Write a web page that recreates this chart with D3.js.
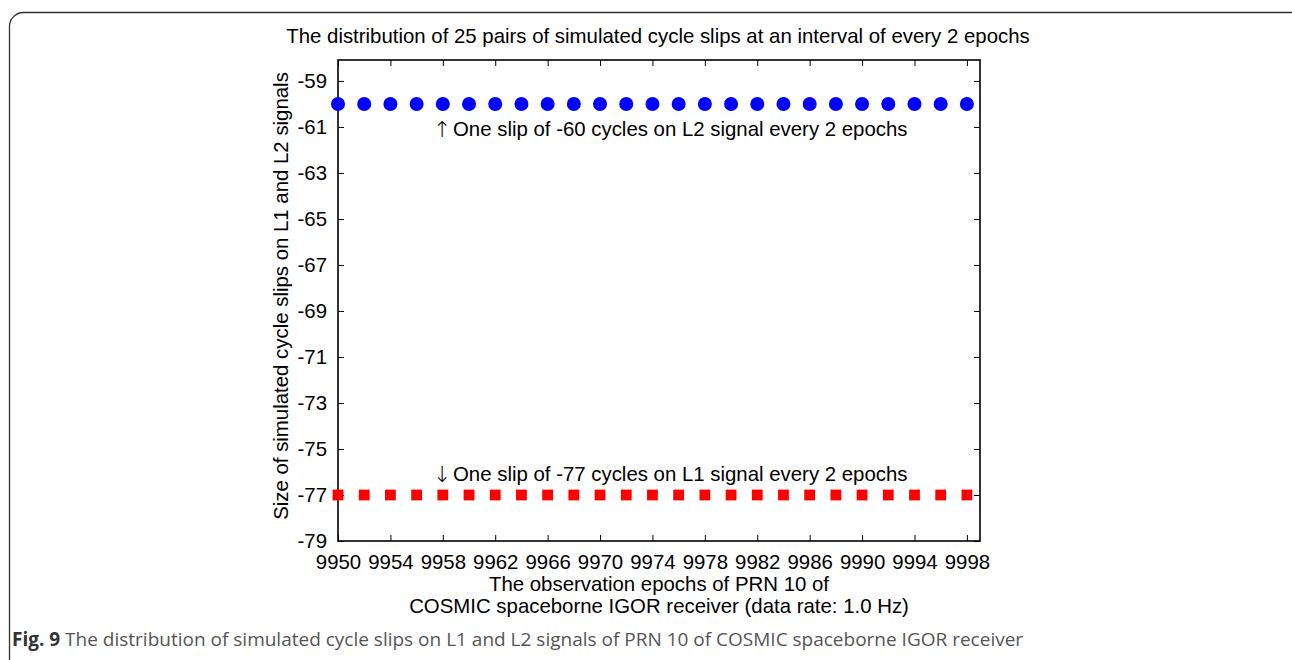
<!DOCTYPE html>
<html>
<head>
<meta charset="utf-8">
<script src="https://cdn.jsdelivr.net/npm/d3@7"></script>
<style>
  html, body { margin: 0; padding: 0; background: #fff; }
  svg { display: block; }
</style>
</head>
<body>
<svg id="chart" width="1292" height="660"></svg>
<script>
// Observation epochs (every 2 epochs) of PRN 10
const epochs = [9950, 9952, 9954, 9956, 9958, 9960, 9962, 9964, 9966, 9968,
                9970, 9972, 9974, 9976, 9978, 9980, 9982, 9984, 9986, 9988,
                9990, 9992, 9994, 9996, 9998];
// Simulated slip sizes (cycles)
const slipsL2 = [-60, -60, -60, -60, -60, -60, -60, -60, -60, -60,
                 -60, -60, -60, -60, -60, -60, -60, -60, -60, -60,
                 -60, -60, -60, -60, -60];
const slipsL1 = [-77, -77, -77, -77, -77, -77, -77, -77, -77, -77,
                 -77, -77, -77, -77, -77, -77, -77, -77, -77, -77,
                 -77, -77, -77, -77, -77];
// Axis ticks
const xTicks = [9950, 9954, 9958, 9962, 9966, 9970, 9974, 9978, 9982, 9986, 9990, 9994, 9998];
const yTicks = [-79, -77, -75, -73, -71, -69, -67, -65, -63, -61, -59];
const xDomain = [9950, 9999];
const yDomain = [-79, -58.09];

const svg = d3.select("#chart");
const font = "'Liberation Sans', Arial, Helvetica, sans-serif";
const fs = 20.4;

// Outer figure frame with rounded corners
svg.append("rect")
  .attr("x", 9.5).attr("y", 12.5)
  .attr("width", 1300).attr("height", 700)
  .attr("rx", 14).attr("ry", 14)
  .attr("fill", "none").attr("stroke", "#333").attr("stroke-width", 1.3);

const plot = { left: 338, right: 980, top: 60, bottom: 541 };
const x = d3.scaleLinear().domain(xDomain).range([plot.left, plot.right]);
const y = d3.scaleLinear().domain(yDomain).range([plot.bottom, plot.top]);

const tickLen = 6;
const plain = d => String(d);
const axisStyle = g => {
  g.select(".domain").remove();
  g.selectAll(".tick line").attr("stroke", "#000").attr("stroke-width", 1);
  g.selectAll(".tick text").attr("font-family", font).attr("font-size", fs).attr("fill", "#000");
};

// Bottom axis (ticks pointing inward)
svg.append("g")
  .attr("transform", `translate(0,${plot.bottom})`)
  .call(d3.axisBottom(x).tickValues(xTicks).tickFormat(plain)
        .tickSizeInner(-tickLen).tickSizeOuter(0).tickPadding(14))
  .call(axisStyle);

// Top axis (ticks only)
svg.append("g")
  .attr("transform", `translate(0,${plot.top})`)
  .call(d3.axisTop(x).tickValues(xTicks).tickFormat("")
        .tickSizeInner(-tickLen).tickSizeOuter(0))
  .call(axisStyle);

// Left axis
svg.append("g")
  .attr("transform", `translate(${plot.left},0)`)
  .call(d3.axisLeft(y).tickValues(yTicks).tickFormat(plain)
        .tickSizeInner(-tickLen).tickSizeOuter(0).tickPadding(11))
  .call(axisStyle);

// Right axis (ticks only)
svg.append("g")
  .attr("transform", `translate(${plot.right},0)`)
  .call(d3.axisRight(y).tickValues(yTicks).tickFormat("")
        .tickSizeInner(-tickLen).tickSizeOuter(0))
  .call(axisStyle);

// Plot box
svg.append("rect")
  .attr("x", plot.left).attr("y", plot.top)
  .attr("width", plot.right - plot.left).attr("height", plot.bottom - plot.top)
  .attr("fill", "none").attr("stroke", "#000").attr("stroke-width", 1.6);

// L2 slips: blue dots
svg.append("g").selectAll("circle")
  .data(epochs.map((e, i) => ({ e, v: slipsL2[i] })))
  .join("circle")
  .attr("cx", d => x(d.e)).attr("cy", d => y(d.v))
  .attr("r", 7).attr("fill", "#0000ff");

// L1 slips: red squares
const sq = 10.8;
svg.append("g").selectAll("rect")
  .data(epochs.map((e, i) => ({ e, v: slipsL1[i] })))
  .join("rect")
  .attr("x", d => x(d.e) - sq / 2).attr("y", d => y(d.v) - sq / 2)
  .attr("width", sq).attr("height", sq).attr("fill", "#ff0000");

const textStyle = s => s.attr("font-family", font).attr("font-size", fs).attr("fill", "#000");

// Annotations: arrow glyph plus label
const annotate = (arrow, label, baseline) => {
  svg.append("text").attr("x", 442).attr("y", baseline + 1).attr("text-anchor", "middle")
    .attr("font-family", "'DejaVu Sans', sans-serif").attr("font-size", 22)
    .attr("font-weight", 200).attr("fill", "#000").text(arrow);
  svg.append("text").attr("x", 453).attr("y", baseline).text(label).call(textStyle);
};
annotate("\u2191", "One slip of -60 cycles on L2 signal every 2 epochs", 136);
annotate("\u2193", "One slip of -77 cycles on L1 signal every 2 epochs", 481);

// Title
svg.append("text").attr("x", 658).attr("y", 43).attr("text-anchor", "middle")
  .text("The distribution of 25 pairs of simulated cycle slips at an interval of every 2 epochs")
  .call(textStyle);

// Axis titles
const cx = (plot.left + plot.right) / 2;
svg.append("text").attr("x", cx).attr("y", 591).attr("text-anchor", "middle")
  .text("The observation epochs of PRN 10 of").call(textStyle);
svg.append("text").attr("x", cx).attr("y", 613).attr("text-anchor", "middle")
  .text("COSMIC spaceborne IGOR receiver (data rate: 1.0 Hz)").call(textStyle);
svg.append("text")
  .attr("transform", "translate(288,296) rotate(-90)")
  .attr("text-anchor", "middle")
  .text("Size of simulated cycle slips on L1 and L2 signals").call(textStyle);

// Figure caption
const cap = svg.append("text").attr("x", 12).attr("y", 646)
  .attr("font-family", "'Open Sans', 'Noto Sans', sans-serif").attr("font-size", 19)
  .attr("fill", "#555");
cap.append("tspan").attr("font-weight", "bold").attr("fill", "#333").text("Fig. 9");
cap.append("tspan").text(" The distribution of simulated cycle slips on L1 and L2 signals of PRN 10 of COSMIC spaceborne IGOR receiver");
</script>
</body>
</html>
